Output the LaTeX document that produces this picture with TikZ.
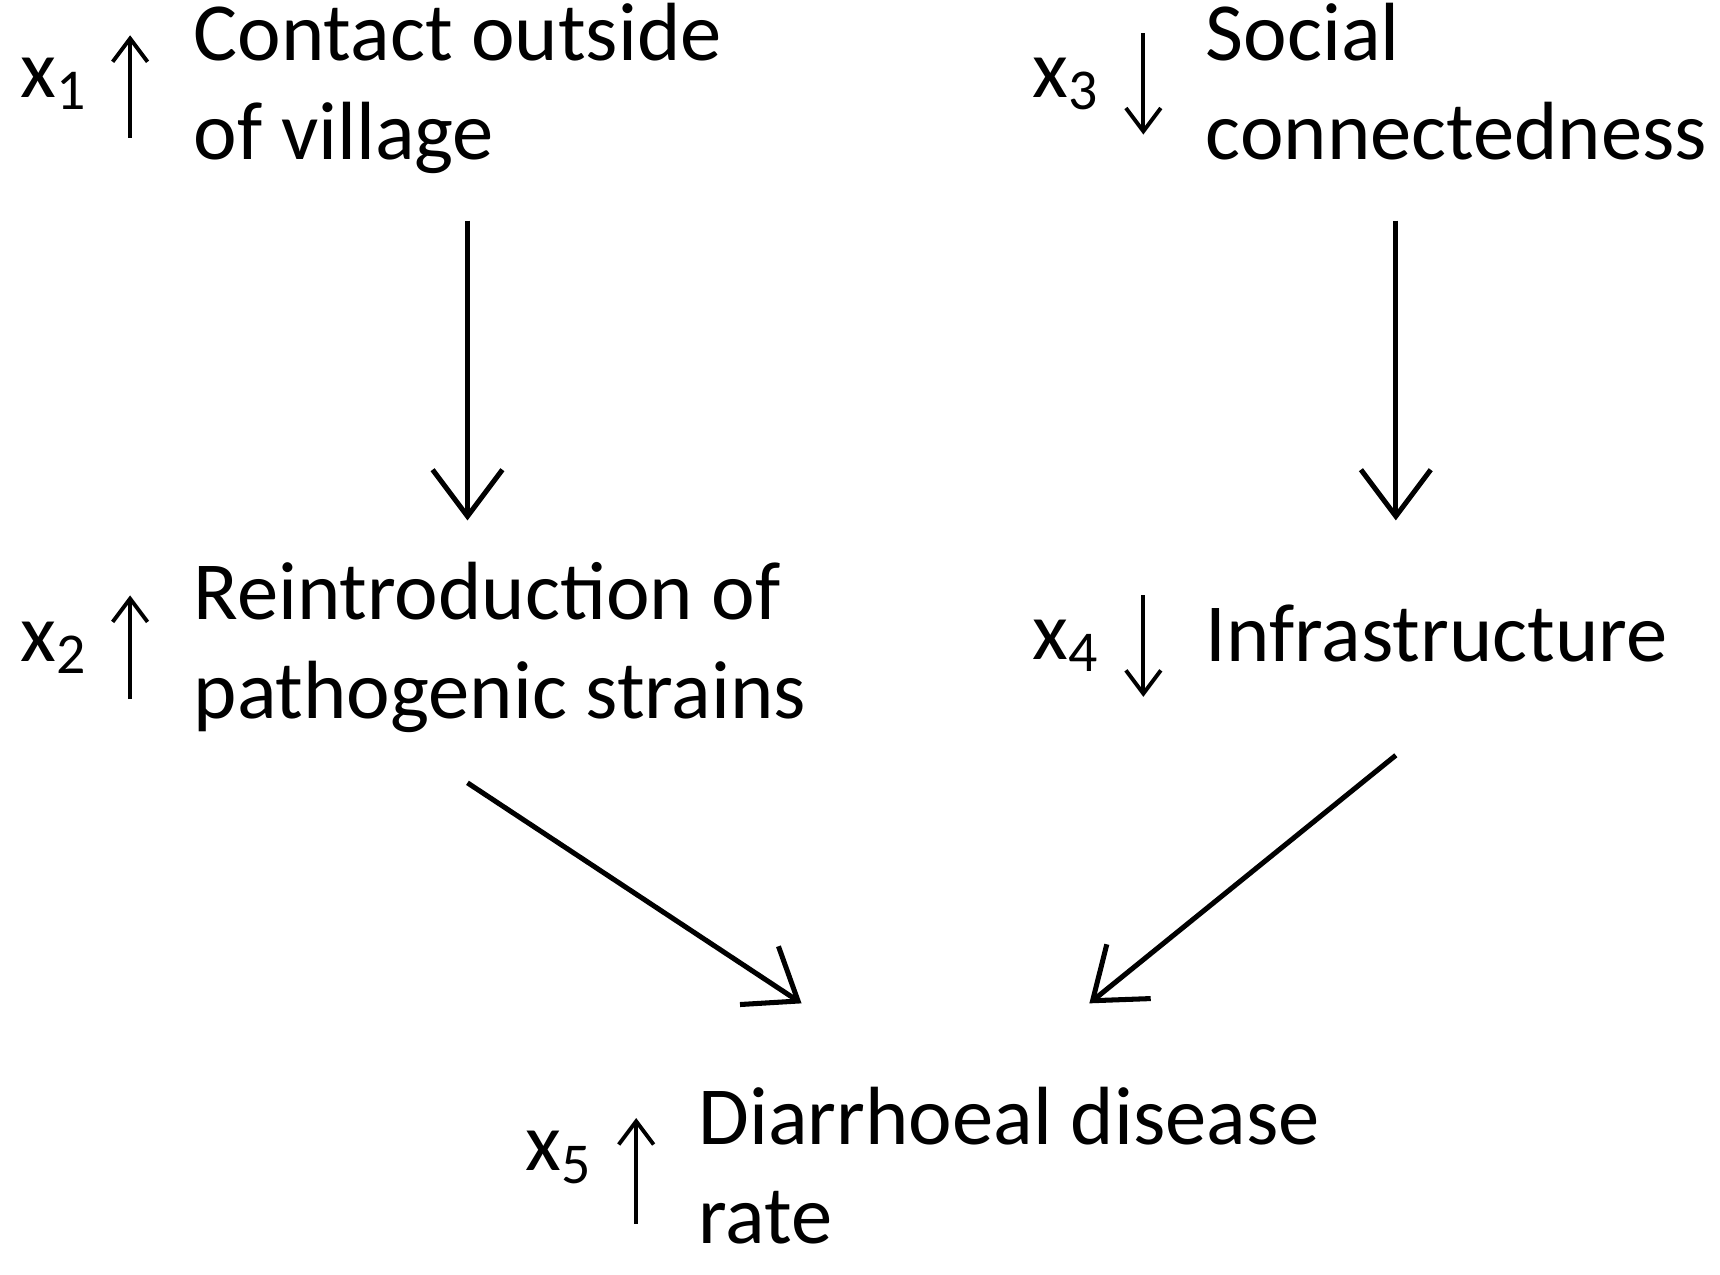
\documentclass[tikz,border=0pt]{standalone}
\usepackage{fontspec}
\setmainfont{Carlito}
\usetikzlibrary{arrows.meta}
\begin{document}
\begin{tikzpicture}[x=0.01cm,y=-0.01cm,
  t/.style={anchor=base west,inner sep=0pt,font=\fontsize{21.3}{26}\selectfont},
  lab/.style={anchor=base east,inner sep=0pt,font=\fontsize{21.3}{26}\selectfont},
  big/.style={line width=1.3pt,-{Straight Barb[length=12pt,width=18pt,line width=1.3pt]}},
  small/.style={line width=1pt,-{Straight Barb[length=6pt,width=9pt,line width=1pt]}}]
\useasboundingbox (0,0) rectangle (1560,1156);
% top left
\node[lab] (l1) at (80,88) {x\textsubscript{1}};
\coordinate (s1a) at (118,125); \coordinate (s1b) at (118,32);
\draw[small] (s1a) -- (s1b);
\node[t] (c1) at (175,55) {Contact outside};
\node[t] (c2) at (175,145) {of village};
% top right
\node[lab] (l3) at (998,88) {x\textsubscript{3}};
\coordinate (s3a) at (1037,30); \coordinate (s3b) at (1037,122);
\draw[small] (s3a) -- (s3b);
\node[t] (s1) at (1093,55) {Social};
\node[t] (s2) at (1093,145) {connectedness};
% middle left
\node[lab] (l2) at (80,600) {x\textsubscript{2}};
\coordinate (s2a) at (118,634); \coordinate (s2b) at (118,540);
\draw[small] (s2a) -- (s2b);
\node[t] (r1) at (175,562) {Reintroduction of};
\node[t] (r2) at (175,652) {pathogenic strains};
% middle right
\node[lab] (l4) at (998,598) {x\textsubscript{4}};
\coordinate (s4a) at (1037,540); \coordinate (s4b) at (1037,632);
\draw[small] (s4a) -- (s4b);
\node[t] (i1) at (1093,600) {Infrastructure};
% bottom
\node[lab] (l5) at (538,1062) {x\textsubscript{5}};
\coordinate (s5a) at (577,1110); \coordinate (s5b) at (577,1014);
\draw[small] (s5a) -- (s5b);
\node[t] (d1) at (633,1038) {Diarrhoeal disease};
\node[t] (d2) at (633,1128) {rate};
% main arrows
\coordinate (a1) at (424,200); \coordinate (a2) at (424,472);
\coordinate (b1) at (1266,200); \coordinate (b2) at (1266,472);
\coordinate (e1) at (424,710); \coordinate (e2) at (727,910);
\coordinate (f1) at (1266,685); \coordinate (f2) at (988,910);
\draw[big] (a1) -- (a2);
\draw[big] (b1) -- (b2);
\draw[big] (e1) -- (e2);
\draw[big] (f1) -- (f2);
\end{tikzpicture}
\end{document}
